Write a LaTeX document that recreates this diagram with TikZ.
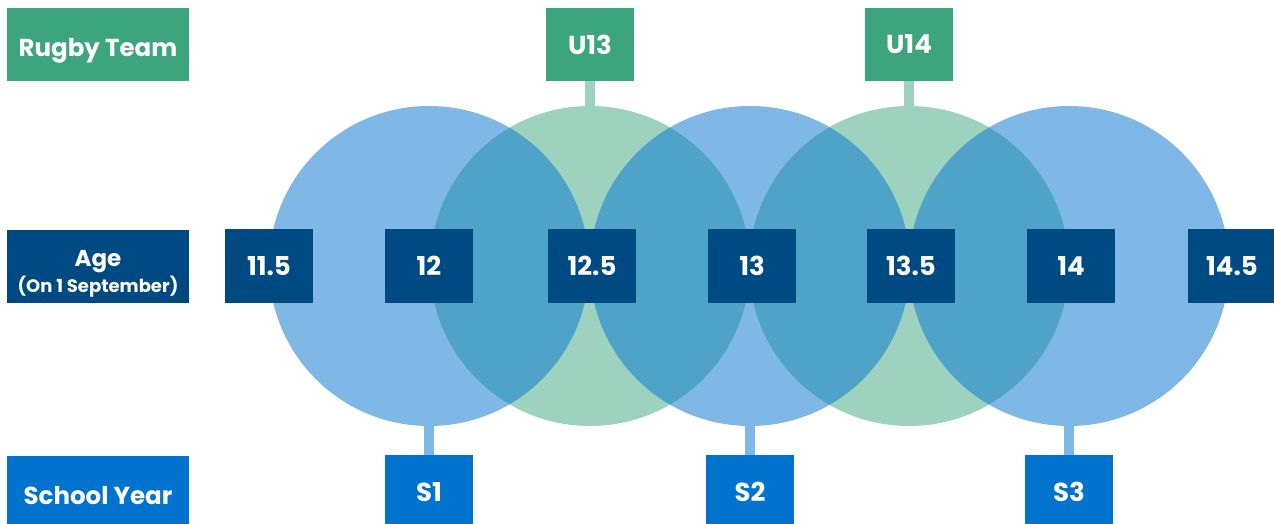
\documentclass[tikz,border=0pt]{standalone}
\usepackage{fontspec}
\setmainfont{Poppins}
\definecolor{rgreen}{HTML}{3DA57E}
\definecolor{navy}{HTML}{004A84}
\definecolor{sblue}{HTML}{0073CF}
\definecolor{lblue}{HTML}{7FB8E6}
\definecolor{lgreen}{HTML}{9DD3BE}
\definecolor{ovl}{HTML}{4FA3C8}
\begin{document}
\begin{tikzpicture}[x=1pt,y=-1pt,
  hdr/.style={fill=#1, text=white, minimum width=182pt, minimum height=73pt, inner sep=0pt},
  lbl/.style={text=white, inner sep=0pt, anchor=base, font=\bfseries\fontsize{#1}{30}\selectfont},
  agebox/.style={fill=navy, text=white, minimum width=88pt, minimum height=74pt, inner sep=0pt, font=\bfseries\fontsize{26}{30}\selectfont},
  teambox/.style={fill=rgreen, text=white, minimum width=88pt, minimum height=73pt, inner sep=0pt, font=\bfseries\fontsize{26}{30}\selectfont},
  yearbox/.style={fill=sblue, text=white, minimum width=88pt, minimum height=74pt, inner sep=0pt, font=\bfseries\fontsize{26}{30}\selectfont},
  stem/.style={draw=#1, line width=10pt},
  circ/.style={circle, minimum size=320pt, inner sep=0pt, fill=#1}]
\useasboundingbox (0,0) rectangle (1274,524);
\clip (0,0) rectangle (1274,524);
% circle nodes (positions)
\coordinate (cb1) at (429,266);
\coordinate (cg1) at (590,266);
\coordinate (cb2) at (750,266);
\coordinate (cg2) at (909,266);
\coordinate (cb3) at (1069,266);
% header boxes
\node[hdr=rgreen] (hteam) at (98,44.5) {};
\node[lbl=24.5] (tteam) at (98,57) {Rugby Team};
\node[hdr=navy] (hage) at (98,266.5) {};
\node[lbl=23] (tage) at (98,266) {Age};
\node[lbl=18] (tsept) at (98,292) {(On 1 September)};
\node[hdr=sblue] (hyear) at (98,492) {};
\node[lbl=24.5] (tyear) at (98,504) {School Year};
% team boxes
\node[teambox] (u13) at (590,44.5) {U13};
\node[teambox] (u14) at (909,44.5) {U14};
% year boxes
\node[yearbox] (s1) at (429,492) {S1};
\node[yearbox] (s2) at (750,492) {S2};
\node[yearbox] (s3) at (1069,492) {S3};
% stems
\draw[stem=lgreen] (u13.south) -- (cg1);
\draw[stem=lgreen] (u14.south) -- (cg2);
\draw[stem=lblue] (s1.north) -- (cb1);
\draw[stem=lblue] (s2.north) -- (cb2);
\draw[stem=lblue] (s3.north) -- (cb3);
% circles
\node[circ=lblue] (b1) at (cb1) {};
\node[circ=lblue] (b2) at (cb2) {};
\node[circ=lblue] (b3) at (cb3) {};
\node[circ=lgreen] (g1) at (cg1) {};
\node[circ=lgreen] (g2) at (cg2) {};
% overlaps
\begin{scope}\clip (cb1) circle[radius=160pt]; \fill[ovl] (cg1) circle[radius=160pt];\end{scope}
\begin{scope}\clip (cb2) circle[radius=160pt]; \fill[ovl] (cg1) circle[radius=160pt];\end{scope}
\begin{scope}\clip (cb2) circle[radius=160pt]; \fill[ovl] (cg2) circle[radius=160pt];\end{scope}
\begin{scope}\clip (cb3) circle[radius=160pt]; \fill[ovl] (cg2) circle[radius=160pt];\end{scope}
% age boxes
\node[agebox] (a1) at (269,266) {11.5};
\node[agebox] (a2) at (429,266) {12};
\node[agebox] (a3) at (592,266) {12.5};
\node[agebox] (a4) at (752,266) {13};
\node[agebox] (a5) at (911,266) {13.5};
\node[agebox] (a6) at (1071,266) {14};
\node[agebox] (a7) at (1232,266) {14.5};
\end{tikzpicture}
\end{document}
